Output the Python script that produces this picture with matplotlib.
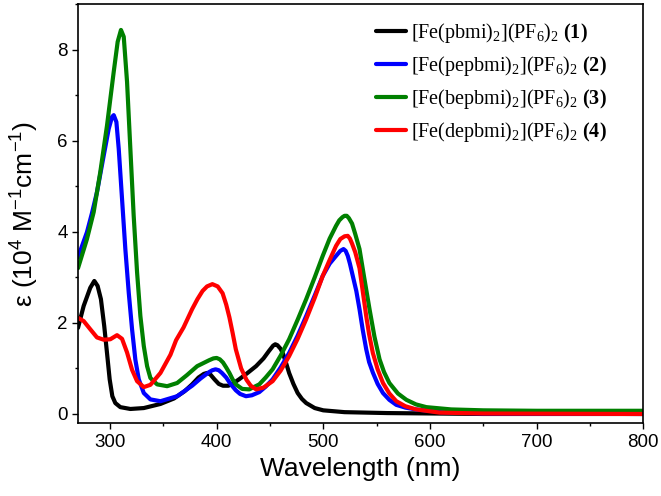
import matplotlib
matplotlib.use("Agg")
import matplotlib.pyplot as plt
from matplotlib.ticker import MultipleLocator
from matplotlib.font_manager import FontProperties

plt.rcParams['mathtext.fontset'] = 'custom'
plt.rcParams['mathtext.rm'] = 'Liberation Serif'
plt.rcParams['mathtext.bf'] = 'Liberation Serif:bold'
plt.rcParams['font.family'] = ['Liberation Sans', 'DejaVu Sans']

# ---- data ----
wl_1 = [270, 275.3, 281.5, 285.3, 288.4, 291.5, 294.6, 297.2, 299.7, 302.2, 305, 309.7, 319.1,
        331.7, 347.3, 360, 370, 377, 383, 388, 391, 394, 398, 402, 406, 411, 416, 421, 429,
        437, 444, 449, 453, 455, 457, 460, 462, 465, 468, 472, 476, 480, 484, 492, 500, 510,
        520, 560, 650, 800]
eps_1 = [1.89, 2.37, 2.77, 2.92, 2.81, 2.52, 1.93, 1.34, 0.76, 0.39, 0.24, 0.15, 0.11,
         0.13, 0.22, 0.34, 0.50, 0.65, 0.80, 0.88, 0.90, 0.87, 0.76, 0.66, 0.62, 0.62, 0.68, 0.76, 0.90,
         1.05, 1.22, 1.38, 1.50, 1.53, 1.51, 1.43, 1.34, 1.13, 0.90, 0.66, 0.46, 0.33, 0.24, 0.13, 0.08, 0.06,
         0.04, 0.02, 0.0, 0.0]

wl_2 = [270, 278.4, 283, 287.8, 294.1, 298.8, 301.9, 303.5, 306, 308.2, 311.3, 314.4, 317.6,
        320.7, 323.8, 327, 331.7, 337.9, 347.3, 363, 377, 385, 393, 396, 399, 402, 405, 409,
        413, 418, 422, 427.5, 433, 440, 446, 452.5, 460, 468, 476, 484, 492, 499.5, 506, 512,
        516, 519, 521, 523, 525, 527.7, 531, 534, 537, 540.3, 543, 546.5, 551, 556, 562,
        568.5, 577, 587, 610, 650, 800]
eps_2 = [3.44, 3.99, 4.40, 4.87, 5.67, 6.26, 6.52, 6.56, 6.41, 5.82, 4.72, 3.62, 2.66,
         1.86, 1.19, 0.76, 0.46, 0.32, 0.28, 0.39, 0.62, 0.78, 0.92, 0.96, 0.98, 0.96, 0.90, 0.80,
         0.66, 0.52, 0.44, 0.39, 0.41, 0.48, 0.60, 0.76, 1.02, 1.34, 1.72, 2.15, 2.60, 3.03, 3.30, 3.47,
         3.58, 3.62, 3.58, 3.47, 3.30, 3.03, 2.70, 2.30, 1.85, 1.42, 1.14, 0.91, 0.66, 0.46, 0.31,
         0.20, 0.14, 0.10, 0.04, 0.01, 0.0]

wl_3 = [270, 278.4, 284.7, 290.9, 297.2, 303.5, 307.2, 310.3, 312.9, 316, 319.1, 322.2, 325.4,
        328.5, 331.7, 334.8, 337.9, 344.2, 353.6, 363, 372, 381.8, 393, 397, 400, 403, 406,
        409, 412, 415, 418, 424, 430.6, 440, 446, 452.5, 460, 468, 476, 484, 492, 499.5, 506,
        512, 515, 518, 520, 522, 524, 527, 530, 534, 538, 543.4, 548, 552.8, 557, 562, 570,
        578, 587, 596.7, 620, 650, 700, 800]
eps_3 = [3.20, 3.84, 4.43, 5.31, 6.33, 7.51, 8.17, 8.43, 8.28, 7.29, 5.82, 4.36, 3.11,
         2.15, 1.49, 1.05, 0.79, 0.65, 0.61, 0.68, 0.85, 1.05, 1.18, 1.22, 1.23, 1.20, 1.13,
         1.02, 0.90, 0.76, 0.65, 0.55, 0.54, 0.65, 0.80, 0.98, 1.28, 1.64, 2.07, 2.52, 3.00, 3.47, 3.85,
         4.13, 4.25, 4.32, 4.35, 4.35, 4.30, 4.18, 3.95, 3.62, 3.05, 2.30, 1.70, 1.20, 0.92, 0.68, 0.45,
         0.31, 0.21, 0.15, 0.10, 0.08, 0.07, 0.07]

wl_4 = [270, 275.3, 281.5, 287.8, 294.1, 300.3, 306.6, 311.3, 316, 320.7, 325.4, 331.7, 337.9,
        347.3, 356.7, 362, 369, 377, 382, 386.8, 391, 396, 401, 405.6, 409, 412, 415, 418,
        423, 428, 432, 437, 444, 452.5, 460, 468, 476, 484, 492, 499.5, 506, 512, 516, 520,
        523, 525, 527, 530, 534, 537, 540.3, 543, 546.5, 551, 556, 562, 568.5, 577, 587, 609,
        650, 800]
eps_4 = [2.11, 2.04, 1.86, 1.68, 1.63, 1.64, 1.73, 1.65, 1.35, 0.97, 0.72, 0.59, 0.64,
         0.90, 1.30, 1.62, 1.90, 2.30, 2.52, 2.70, 2.80, 2.85, 2.80, 2.65, 2.40, 2.12, 1.78, 1.42,
         1.00, 0.75, 0.62, 0.54, 0.58, 0.72, 0.95, 1.27, 1.65, 2.08, 2.55, 3.03, 3.38, 3.69, 3.84, 3.90,
         3.91, 3.85, 3.74, 3.55, 3.20, 2.70, 2.15, 1.75, 1.34, 0.98, 0.68, 0.45, 0.28, 0.17, 0.10, 0.03,
         0.01, 0.0]

labels = [r'[Fe(pbmi)$\mathregular{_2}$](PF$\mathregular{_6}$)$\mathregular{_2}$ $\mathbf{(1)}$',
          r'[Fe(pepbmi)$\mathregular{_2}$](PF$\mathregular{_6}$)$\mathregular{_2}$ $\mathbf{(2)}$',
          r'[Fe(bepbmi)$\mathregular{_2}$](PF$\mathregular{_6}$)$\mathregular{_2}$ $\mathbf{(3)}$',
          r'[Fe(depbmi)$\mathregular{_2}$](PF$\mathregular{_6}$)$\mathregular{_2}$ $\mathbf{(4)}$']
colors = ['#000000', '#0000ff', '#008000', '#ff0000']

fig = plt.figure(figsize=(6.61, 4.96), dpi=100)
ax = fig.add_axes([0.118, 0.147, 0.855, 0.845])

series = [(wl_1, eps_1), (wl_2, eps_2), (wl_3, eps_3), (wl_4, eps_4)]
for (x, y), c, lab in zip(series, colors, labels):
    ax.plot(x, y, color=c, lw=3.0, label=lab, solid_capstyle='round', solid_joinstyle='round')

ax.set_xlim(270, 800)
ax.set_ylim(-0.2, 9.0)
ax.xaxis.set_major_locator(MultipleLocator(100))
ax.xaxis.set_minor_locator(MultipleLocator(50))
ax.yaxis.set_major_locator(MultipleLocator(2))
ax.yaxis.set_minor_locator(MultipleLocator(1))
ax.tick_params(which='both', direction='out', width=1.0, labelsize=13.5, pad=3)
ax.tick_params(which='major', length=4.5)
ax.tick_params(which='minor', length=2.5)
for s in ax.spines.values():
    s.set_linewidth(1.2)

ax.set_xlabel('Wavelength (nm)', fontsize=19)
ax.set_ylabel(r'ε (10$\mathregular{^4}$ M$\mathregular{^{-1}}$cm$\mathregular{^{-1}}$)', fontsize=19)
ax.xaxis.set_label_coords(0.5, -0.08)
ax.yaxis.set_label_coords(-0.066, 0.5)

leg = ax.legend(loc='upper left', bbox_to_anchor=(0.528, 0.959), frameon=False,
                prop=FontProperties(family='Liberation Serif', size=14.5),
                handlelength=1.45, handletextpad=0.25, labelspacing=0.45,
                borderpad=0, borderaxespad=0)

fig.savefig('out.png', dpi=100)
